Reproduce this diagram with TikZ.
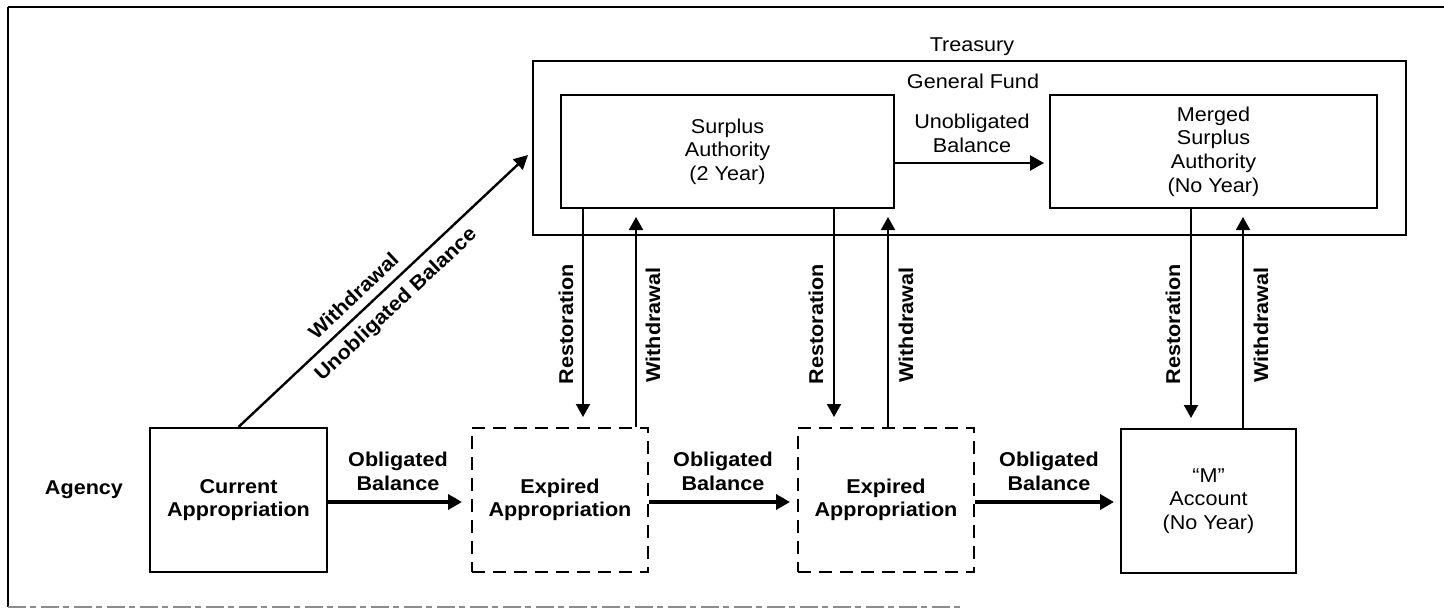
\documentclass[tikz,border=0pt]{standalone}
\usepackage{fontspec}
\setmainfont{Liberation Sans}[FakeStretch=1.08]
\usetikzlibrary{arrows.meta}
\begin{document}
\begin{tikzpicture}[x=0.5pt,y=-0.5pt,
  font=\fontsize{10pt}{11.8pt}\selectfont,
  box/.style={draw, line width=1pt, inner sep=0pt, align=center},
  dbox/.style={box, dash pattern=on 6.5pt off 4pt},
  lbl/.style={font=\fontsize{10pt}{11.8pt}\selectfont\bfseries, align=center, inner sep=0pt},
  txt/.style={align=center, inner sep=0pt},
  harr/.style={-{Triangle[length=7pt,width=7.5pt]}, line width=1.8pt},
  tarr/.style={-{Triangle[length=7pt,width=7.5pt]}, line width=1.3pt},
  varr/.style={-{Triangle[length=6.5pt,width=7pt]}, line width=1pt},
  darr/.style={-{Triangle[length=7pt,width=7pt]}, line width=1.2pt}]
\useasboundingbox (0,0) rectangle (1444,610);
% frame
\draw[line width=1pt] (8,7) -- (1444,7);
\draw[line width=1.2pt] (8,7) -- (8,607);
\draw[line width=0.6pt, black!45, dash pattern=on 9pt off 2pt on 3pt off 2.5pt] (8,607) -- (960,607);
% treasury
\node[box, line width=0.9pt, minimum width=436.5pt, minimum height=87pt] (tre) at (969.5,148) {};
\node[txt] (trelbl) at (972,47) {Treasury};
\node[txt] (gflbl) at (973,81) {General Fund};
\node[box, minimum width=166.5pt, minimum height=56.5pt] (sur) at (727.5,151.5) {Surplus\\Authority\\(2 Year)};
\node[box, minimum width=163.5pt, minimum height=56.5pt] (mer) at (1213.5,151.5) {Merged\\Surplus\\Authority\\(No Year)};
\node[txt] (ublbl) at (972,133.5) {Unobligated\\Balance};
% agency row
\node[lbl] (agency) at (84,490) {Agency};
\node[box, font=\fontsize{10pt}{11.8pt}\selectfont\bfseries, minimum width=88.5pt, minimum height=72pt] (cur) at (238.5,500) {Current\\Appropriation};
\node[dbox, font=\fontsize{10pt}{11.8pt}\selectfont\bfseries, minimum width=88pt, minimum height=72pt] (ex1) at (560,500) {Expired\\Appropriation};
\node[dbox, font=\fontsize{10pt}{11.8pt}\selectfont\bfseries, minimum width=88pt, minimum height=72pt] (ex2) at (886,500) {Expired\\Appropriation};
\node[box, minimum width=87.5pt, minimum height=72pt] (mac) at (1208.5,501) {“M”\\Account\\(No Year)};
\node[lbl] (ob1) at (398,471.5) {Obligated\\Balance};
\node[lbl] (ob2) at (723,471.5) {Obligated\\Balance};
\node[lbl] (ob3) at (1049,471.5) {Obligated\\Balance};
% helper coordinates
\coordinate (oby) at (0,502);
\coordinate (uby) at (0,163);
\coordinate (r1) at (583,0);
\coordinate (w1) at (636,0);
\coordinate (r2) at (834,0);
\coordinate (w2) at (888,0);
\coordinate (r3) at (1191,0);
\coordinate (w3) at (1243,0);
\coordinate (dtip) at (528,155);
% horizontal arrows
\draw[harr, shorten >=4.5pt] (cur.east |- oby) -- (ex1.west |- oby);
\draw[harr, shorten >=3.5pt] (ex1.east |- oby) -- (ex2.west |- oby);
\draw[harr, shorten >=3pt] (ex2.east |- oby) -- (mac.west |- oby);
\draw[tarr, shorten >=2.5pt] (sur.east |- uby) -- (mer.west |- uby);
% vertical arrows
\draw[varr, shorten >=5pt] (sur.south -| r1) -- (ex1.north -| r1);
\draw[varr, shorten >=4pt] (ex1.north -| w1) -- (sur.south -| w1);
\draw[varr, shorten >=5pt] (sur.south -| r2) -- (ex2.north -| r2);
\draw[varr, shorten >=4pt] (ex2.north -| w2) -- (sur.south -| w2);
\draw[varr, shorten >=5pt] (mer.south -| r3) -- (mac.north -| r3);
\draw[varr, shorten >=4pt] (mac.north -| w3) -- (mer.south -| w3);
% vertical labels
\node[lbl, rotate=90] (rl1) at (566,324) {Restoration};
\node[lbl, rotate=90] (wl1) at (653,325) {Withdrawal};
\node[lbl, rotate=90] (rl2) at (816,324) {Restoration};
\node[lbl, rotate=90] (wl2) at (906,325) {Withdrawal};
\node[lbl, rotate=90] (rl3) at (1173,324) {Restoration};
\node[lbl, rotate=90] (wl3) at (1261,325) {Withdrawal};
% diagonal
\draw[darr] (cur.north) -- (dtip)
  node[lbl, sloped, pos=0.437, above=4.3pt] (dwl) {Withdrawal}
  node[lbl, sloped, pos=0.5, below=4.3pt] (dul) {Unobligated Balance};
\end{tikzpicture}
\end{document}
